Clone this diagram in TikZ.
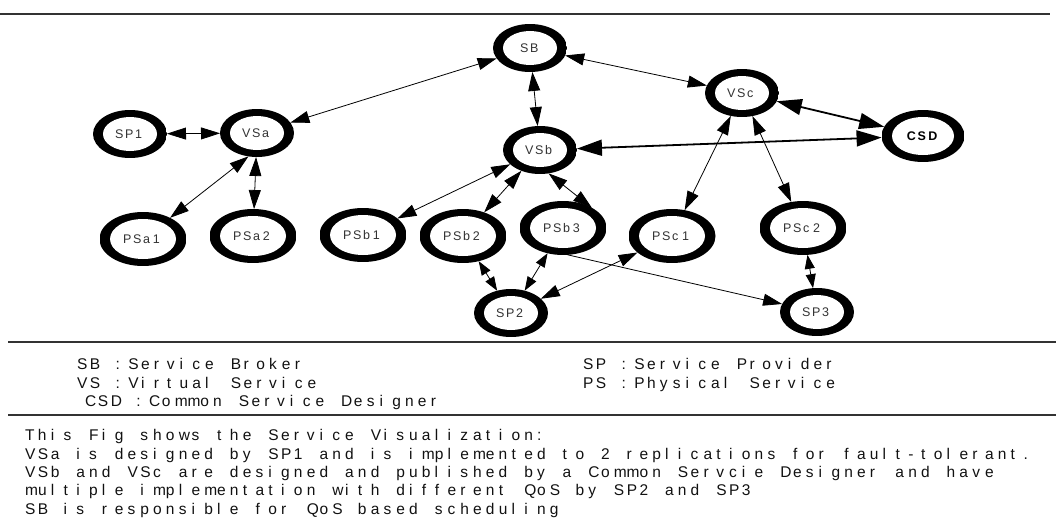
\documentclass[tikz,border=0pt]{standalone}
\usepackage{fontspec}
\setmainfont{Liberation Sans}
\usetikzlibrary{arrows.meta,shapes.geometric}
\definecolor{ink}{HTML}{111111}
\definecolor{taggray}{HTML}{333333}
\definecolor{rulegray}{HTML}{333333}

% set a string on a fixed pitch: every character gets a cell of width #1
\ExplSyntaxOn
\NewDocumentCommand \pitched { m m }
  { \str_map_inline:nn {#2} { \makebox[#1][l]{##1} } }
\ExplSyntaxOff

\begin{document}
\begin{tikzpicture}[x=1pt,y=-1pt,
  % ring-shaped service node: outer ellipse #1 x #2, white hole of radii #3, #4
  svc/.style n args={4}{ellipse, fill=white, inner sep=0pt, outer sep=0pt,
    minimum width=#1, minimum height=#2,
    path picture={
      \fill[black] (path picture bounding box.south west) rectangle (path picture bounding box.north east);
      \fill[white] (path picture bounding box.center) ellipse [x radius=#3, y radius=#4];
    },
    font=\fontsize{12.5}{14}\selectfont, text=taggray},
  small/.style={svc={74pt}{48pt}{27pt}{17pt}},
  big/.style={svc={87pt}{54pt}{33pt}{20pt}},
  hub/.style={svc={83pt}{52pt}{31pt}{19pt}, font=\bfseries\fontsize{12.5}{14}\selectfont, text=black},
  link/.style={{Triangle[length=19pt,width=12pt]}-{Triangle[length=19pt,width=12pt]}, line width=0.8pt},
  shortlink/.style={{Triangle[length=14pt,width=10pt]}-{Triangle[length=14pt,width=10pt]}, line width=0.8pt},
  oneway/.style={-{Triangle[length=19pt,width=12pt]}, line width=0.8pt},
  heavy/.style={{Triangle[length=25pt,width=16pt]}-{Triangle[length=25pt,width=16pt]}, line width=1.8pt},
  note/.style={anchor=base west, inner sep=0pt, font=\fontsize{15.5}{18}\selectfont, text=ink},
  sep/.style={line width=1.8pt, draw=rulegray}
]
\useasboundingbox (0,0) rectangle (1056,527);

% separating rules
\draw[sep] (0,14) -- (1050,14);
\draw[sep] (8,342) -- (1056,342);
\draw[sep] (8,415) -- (1056,415);

% services, brokers and providers
\node[small] (SB)   at (530,48)  {\pitched{10pt}{SB}};
\node[small] (VSc)  at (742,93)  {\pitched{10pt}{VSc}};
\node[hub]   (CSD)  at (923,136) {\pitched{10.8pt}{CSD}};
\node[small] (VSb)  at (540,150) {\pitched{10pt}{VSb}};
\node[small] (SP1)  at (130,134) {\pitched{10pt}{SP1}};
\node[small] (VSa)  at (257,133) {\pitched{10pt}{VSa}};
\node[big]   (PSa1) at (143,239) {\pitched{10pt}{PSa1}};
\node[big]   (PSa2) at (253,236) {\pitched{10pt}{PSa2}};
\node[big]   (PSb1) at (363,235) {\pitched{10pt}{PSb1}};
\node[big]   (PSb2) at (463,236) {\pitched{10pt}{PSb2}};
\node[big]   (PSb3) at (563,228) {\pitched{10pt}{PSb3}};
\node[big]   (PSc1) at (672,236) {\pitched{10pt}{PSc1}};
\node[big]   (PSc2) at (803,228) {\pitched{10pt}{PSc2}};
\node[small] (SP2)  at (511,313) {\pitched{10pt}{SP2}};
\node[small] (SP3)  at (817,312) {\pitched{10pt}{SP3}};

% connections
\draw[link] (SB) -- (VSa);
\draw[link] (SB) -- (VSc);
\draw[link] (SB) -- (VSb);
\draw[link] (SP1) -- (VSa);
\draw[link] (VSa.-110) -- (PSa1);
\draw[link] (VSa) -- (PSa2);
\draw[link] (VSb) -- (PSb1);
\draw[link] (VSb) -- (PSb2);
\draw[link] (VSb.-70) -- (PSb3.35);
\draw[link] (VSc) -- (PSc1);
\draw[link] (VSc) -- (PSc2);
\draw[heavy] (VSc) -- (CSD);
\draw[heavy] (CSD) -- (VSb);
\draw[shortlink] (PSb2) -- (SP2);
\draw[shortlink] (PSb3) -- (SP2);
\draw[link] (PSc1) -- (SP2);
\draw[oneway] (PSb3.-80) -- (SP3);
\draw[shortlink] (PSc2) -- (SP3);

% legend
\node[note] (kSB)  at (77,369.5)  {\pitched{12.8pt}{SB :Service Broker}};
\node[note] (kVS)  at (77,388)    {\pitched{12.8pt}{VS :Virtual Service}};
\node[note] (kCSD) at (85,406.5)  {\pitched{12.8pt}{CSD :Common Service Designer}};
\node[note] (kSP)  at (583,369.5) {\pitched{12.8pt}{SP :Service Provider}};
\node[note] (kPS)  at (583,388)   {\pitched{12.8pt}{PS :Physical Service}};

% description
\node[note] (d1) at (25,440.7) {\pitched{12.8pt}{This Fig shows the Service Visualization:}};
\node[note] (d2) at (25,459)   {\pitched{12.8pt}{VSa is designed by SP1 and is implemented to 2 replications for fault-tolerant.}};
\node[note] (d3) at (25,477.3) {\pitched{12.8pt}{VSb and VSc are designed and published by a Common Servcie Designer and have}};
\node[note] (d4) at (25,495.7) {\pitched{12.8pt}{multiple implementation with different QoS by SP2 and SP3}};
\node[note] (d5) at (25,514)   {\pitched{12.8pt}{SB is responsible for QoS based scheduling}};
\end{tikzpicture}
\end{document}
